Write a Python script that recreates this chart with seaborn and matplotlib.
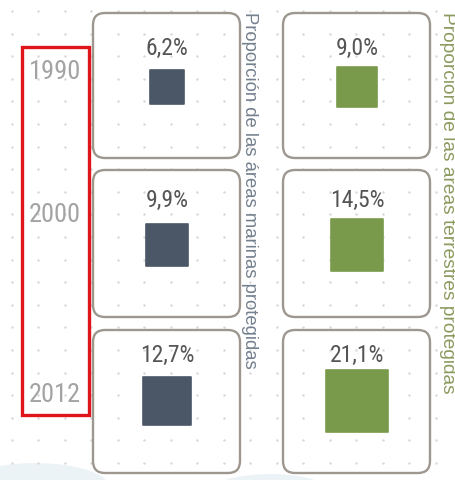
"""Protected areas chart: marine vs terrestrial share, 1990 / 2000 / 2012
"""
import matplotlib
matplotlib.use("Agg")

import matplotlib.pyplot as plt
import numpy as np
import pandas as pd
import seaborn as sns
from matplotlib.patches import FancyBboxPatch, Rectangle, Ellipse


# Data

years = ["1990", "2000", "2012"]
marine_pct = [6.2, 9.9, 12.7]
land_pct = [9.0, 14.5, 21.1]
series_names = ["marinas", "terrestres"]
marine_title = "Proporción de las áreas marinas protegidas"
land_title = "Proporción de las áreas terrestres protegidas"

# Layout (pixel coordinates, figure is 456 x 480)
W, H = 456, 480
COL_X = {"marinas": 167, "terrestres": 357}
ROW_Y = {"1990": 87, "2000": 245, "2012": 401}
LABEL_Y = {"1990": 48, "2000": 200, "2012": 355}
YEAR_Y = {"1990": 72, "2000": 215, "2012": 395}
BOX_ROWS = [(13, 158), (170, 317), (330, 473)]
BOX_COLS = [(93, 240), (283, 430)]
PX_PER_SQRT = 13.6  # square side in px ~ 14 * sqrt(value), incl. rounded edge

COLORS = {"marinas": "#4b5766", "terrestres": "#7a9a4b"}
NARROW = ["Liberation Sans Narrow", "Roboto Condensed", "DejaVu Sans"]
PLAIN = ["Liberation Sans", "DejaVu Sans"]


def build_table() -> pd.DataFrame:
    rows = []
    for name, vals in zip(series_names, [marine_pct, land_pct]):
        for year, v in zip(years, vals):
            rows.append({"serie": name, "year": year, "value": v})
    df = pd.DataFrame(rows)
    df["x"] = df["serie"].map(COL_X)
    df["y"] = df["year"].map(ROW_Y)
    df["label"] = df["value"].map(lambda v: f"{v:.1f}%".replace(".", ","))
    return df


def draw_background(ax):
    # light dot grid
    gx = np.arange(12, W, 26.5)
    gy = np.arange(11, H, 22.6)
    xx, yy = np.meshgrid(gx, gy)
    ax.scatter(xx.ravel(), yy.ravel(), s=3, color="#d6d6d6", linewidths=0, zorder=1)

    # pale blue blur at the bottom
    for cx, cy, w, h in [(35, 488, 150, 50), (270, 492, 120, 36)]:
        ax.add_patch(Ellipse((cx, cy), w, h, color="#e8f0f6", alpha=0.8, lw=0, zorder=0))

    for (x0, x1) in BOX_COLS:
        for (y0, y1) in BOX_ROWS:
            ax.add_patch(FancyBboxPatch(
                (x0 + 12, y0 + 12), x1 - x0 - 24, y1 - y0 - 24,
                boxstyle="round,pad=12", fc="none", ec="#9d9790", lw=1.7, zorder=2))


def main():
    df = build_table()

    sns.set_style("white")
    fig = plt.figure(figsize=(W / 100, H / 100), dpi=100)
    ax = fig.add_axes([0, 0, 1, 1])

    draw_background(ax)

    # square markers, area proportional to the value
    k = (PX_PER_SQRT * 72 / 100) ** 2
    sns.scatterplot(data=df, x="x", y="y", hue="serie", palette=COLORS,
                    size="value", sizes=(0, k * 25), size_norm=(0, 25),
                    marker="s", legend=False, ax=ax, zorder=3)
    sq = ax.collections[-1]
    sq.set_edgecolors(sq.get_facecolors())
    sq.set_linewidth(1.2)
    sq.set_joinstyle("round")

    ax.set_xlim(0, W)
    ax.set_ylim(H, 0)
    ax.axis("off")

    for _, r in df.iterrows():
        ax.text(r["x"], LABEL_Y[r["year"]], r["label"], ha="center", va="center",
                fontsize=17, color="#555555", family=NARROW, zorder=4)

    for year in years:
        ax.text(55, YEAR_Y[year], year, ha="center", va="center",
                fontsize=19, color="#a3a3a3", family=NARROW, zorder=4)

    ax.add_patch(Rectangle((22, 47), 67, 368, fc="none", ec="#e0141b", lw=2.4, zorder=5))

    ax.text(250, 12, marine_title, rotation=-90, ha="center", va="top",
            fontsize=13.3, color="#74808e", family=PLAIN)
    ax.text(448, 12, land_title, rotation=-90, ha="center", va="top",
            fontsize=13.8, color="#8b9a5e", family=PLAIN)

    fig.savefig("out.png", dpi=100, facecolor="white")
    plt.close(fig)


if __name__ == "__main__":
    main()
